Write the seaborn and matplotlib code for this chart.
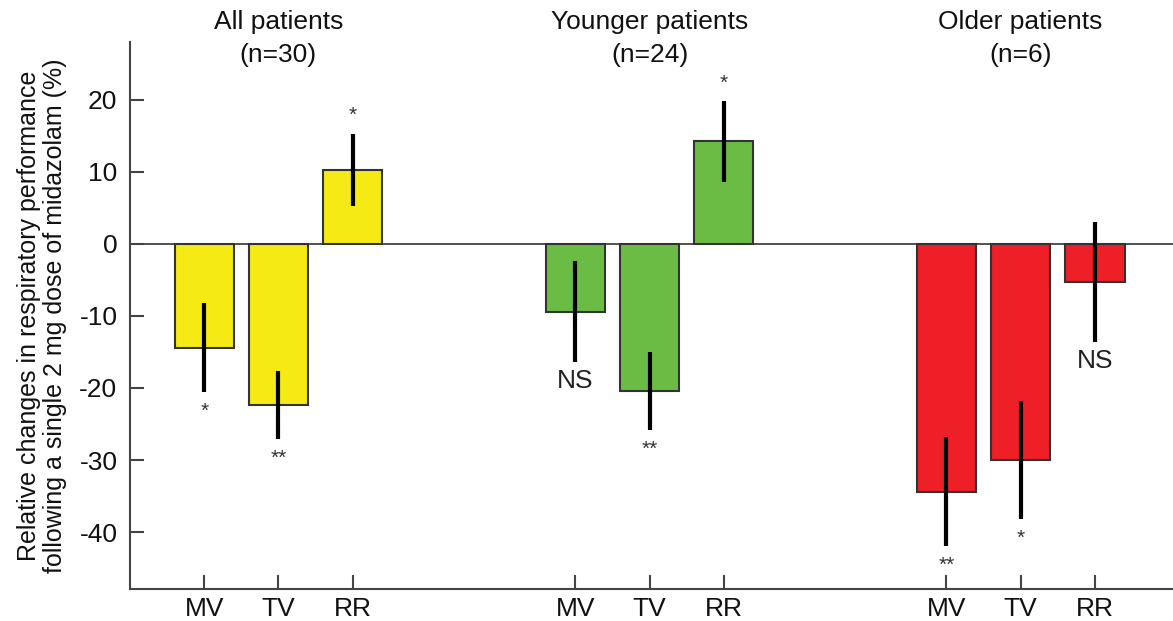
import numpy as np
import pandas as pd
import matplotlib
matplotlib.use("Agg")
import matplotlib.pyplot as plt
import matplotlib.transforms as mtransforms
import seaborn as sns

# Relative change (%) after 2 mg midazolam, mean and error half-width
group_titles = ["All patients", "Younger patients", "Older patients"]
group_n = ["(n=30)", "(n=24)", "(n=6)"]
measures = ["MV", "TV", "RR"]
all_mean = [-14.4, -22.4, 10.3]
all_err = [6.2, 4.7, 5.0]
young_mean = [-9.4, -20.4, 14.2]
young_err = [7.0, 5.4, 5.6]
old_mean = [-34.4, -30.0, -5.3]
old_err = [7.6, 8.2, 8.3]
all_sig = ["*", "**", "*"]
young_sig = ["NS", "**", "*"]
old_sig = ["**", "*", "NS"]
group_colors = ["#F5EA14", "#6BBC45", "#EE1F26"]

means = [all_mean, young_mean, old_mean]
errs = [all_err, young_err, old_err]
sigs = [all_sig, young_sig, old_sig]

rows = []
for gi, g in enumerate(group_titles):
    for mi, m in enumerate(measures):
        rows.append({"group": g, "measure": m, "pos": gi * 5 + mi,
                     "value": means[gi][mi], "err": errs[gi][mi],
                     "sig": sigs[gi][mi]})
df = pd.DataFrame(rows)

sns.set_theme(style="white")
plt.rcParams["font.family"] = ["Liberation Sans", "DejaVu Sans"]
plt.rcParams["axes.unicode_minus"] = False

fig = plt.figure(figsize=(11.73, 6.21), dpi=100)
ax = fig.add_axes([0.1108, 0.0515, 0.889, 0.8808])

sns.barplot(data=df, x="pos", y="value", hue="group", palette=group_colors,
            native_scale=True, dodge=False, width=0.8, errorbar=None,
            saturation=1, edgecolor="#333333", linewidth=1.5, legend=False,
            ax=ax, zorder=2)

ax.errorbar(df["pos"], df["value"], yerr=df["err"], fmt="none",
            ecolor="black", elinewidth=3, capsize=0, zorder=3)

ax.axhline(0, color="#444444", lw=1.3, zorder=1)

# significance labels beyond the error bar tips
for _, r in df.iterrows():
    if r["value"] >= 0:
        y = r["value"] + r["err"]
        off, va = 6, "bottom"
    else:
        y = r["value"] - r["err"]
        off, va = -7, "top"
    if r["sig"] == "NS":
        ax.annotate("NS", (r["pos"], y), xytext=(0, -5), textcoords="offset points",
                    ha="center", va="top", fontsize=19, color="#222222")
    else:
        ax.annotate(r["sig"], (r["pos"], y), xytext=(0, off), textcoords="offset points",
                    ha="center", va=va, fontsize=15, color="#333333")

# group headings above the plot area
head = mtransforms.blended_transform_factory(ax.transData, fig.transFigure)
for gi in range(len(group_titles)):
    cx = gi * 5 + 1
    ax.text(cx, 1 - 22 / 621, group_titles[gi], transform=head,
            ha="center", va="center", fontsize=19, color="#111111")
    ax.text(cx, 1 - 55 / 621, group_n[gi], transform=head,
            ha="center", va="center", fontsize=19, color="#111111")

ax.set_xlim(-1, 13.05)
ax.set_ylim(-47.9, 28)
ax.set_xticks(df["pos"])
ax.set_xticklabels(df["measure"])
ax.set_yticks([20, 10, 0, -10, -20, -30, -40])
ax.set_xlabel("")
ax.set_ylabel("Relative changes in respiratory performance\nfollowing a single 2 mg dose of midazolam (%)",
              fontsize=18, labelpad=9, linespacing=1.12, color="#111111")

for s in ["top", "right"]:
    ax.spines[s].set_visible(False)
for s in ["left", "bottom"]:
    ax.spines[s].set_color("#444444")
    ax.spines[s].set_linewidth(1.5)

ax.tick_params(axis="both", direction="in", length=10, width=1.5, color="#444444",
               labelsize=19, labelcolor="#111111", left=True, bottom=True)
ax.tick_params(axis="x", pad=6)
ax.tick_params(axis="y", pad=9)

fig.savefig("out.png", dpi=100)
